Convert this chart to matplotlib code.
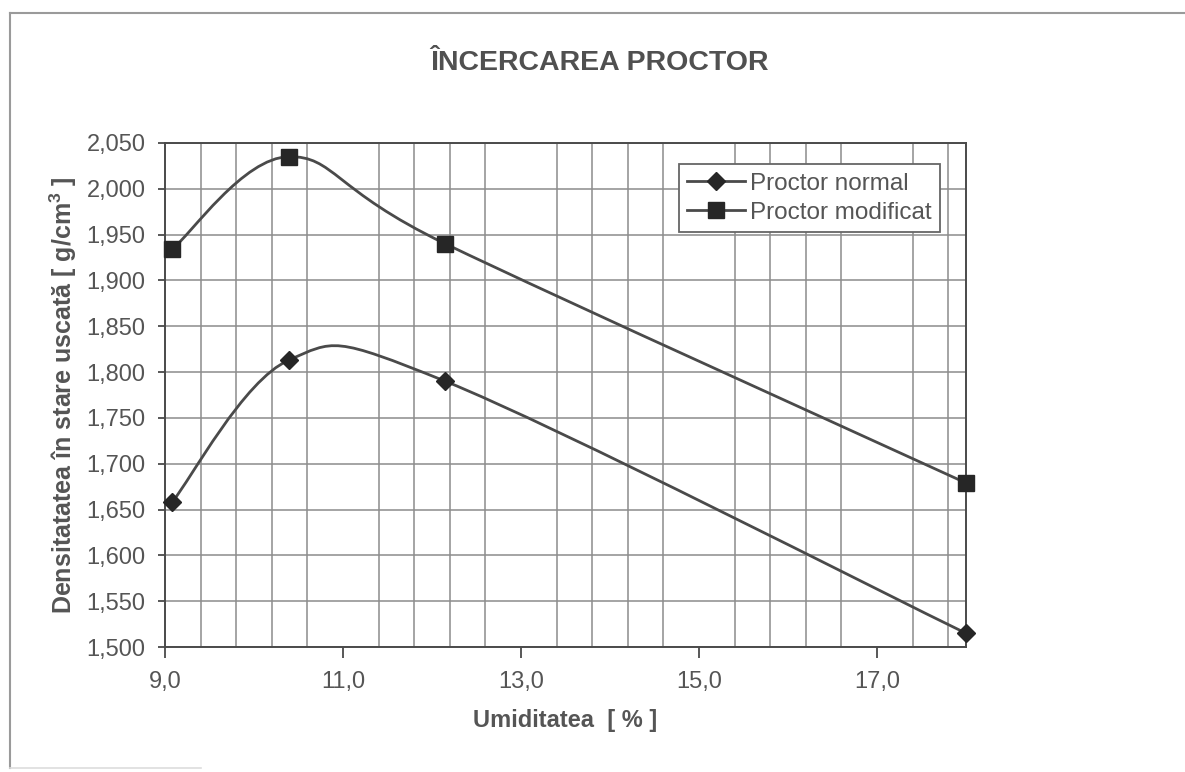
import numpy as np
import matplotlib
matplotlib.use('Agg')
import matplotlib.pyplot as plt
from matplotlib.path import Path
from matplotlib.patches import PathPatch
from matplotlib.lines import Line2D
from matplotlib.ticker import FixedLocator, FuncFormatter

plt.rcParams['font.family'] = ['Liberation Sans', 'DejaVu Sans']

# data
umiditate = [9.08, 10.39, 12.15, 18.0]
proctor_normal = [1.658, 1.813, 1.790, 1.515]
proctor_modificat = [1.934, 2.035, 1.940, 1.679]

x_major = [9.0, 11.0, 13.0, 15.0, 17.0]
y_ticks = np.arange(1.500, 2.0501, 0.050)

TXT = '#555555'
LINE = '#4a4a4a'
MARK = '#262626'
GRID = '#8c8c8c'


def smooth_path(xs, ys):
    # excel-like smoothed line: cubic bezier through the points (catmull-rom)
    p = np.column_stack([xs, ys])
    n = len(p)
    verts = [p[0]]
    codes = [Path.MOVETO]
    for i in range(n - 1):
        p0 = p[i - 1] if i > 0 else p[i]
        p1, p2 = p[i], p[i + 1]
        p3 = p[i + 2] if i + 2 < n else p[i + 1]
        c1 = p1 + (p2 - p0) / 6.0
        c2 = p2 - (p3 - p1) / 6.0
        verts += [c1, c2, p2]
        codes += [Path.CURVE4] * 3
    return Path(verts, codes)


fig = plt.figure(figsize=(11.85, 7.72), dpi=100)
ax = fig.add_axes([0.1392, 0.1619, 0.6760, 0.6529])

for ys, mk, ms in [(proctor_normal, 'D', 9.5), (proctor_modificat, 's', 11)]:
    ax.add_patch(PathPatch(smooth_path(umiditate, ys), facecolor='none',
                           edgecolor=LINE, lw=2, zorder=3))
    ax.plot(umiditate, ys, linestyle='none', marker=mk, ms=ms,
            color=MARK, zorder=4, clip_on=False)

ax.set_xlim(9.0, 18.0)
ax.set_ylim(1.500, 2.050)

ax.xaxis.set_major_locator(FixedLocator(x_major))
ax.xaxis.set_minor_locator(FixedLocator(np.arange(9.0, 17.9, 0.4)))
ax.yaxis.set_major_locator(FixedLocator(y_ticks))
ax.xaxis.set_major_formatter(FuncFormatter(lambda v, p: f'{v:.1f}'.replace('.', ',')))
ax.yaxis.set_major_formatter(FuncFormatter(lambda v, p: f'{v:.3f}'.replace('.', ',')))

ax.grid(True, which='minor', axis='x', color=GRID, lw=1.1)
ax.grid(True, which='major', axis='y', color=GRID, lw=1.1)
ax.set_axisbelow(True)

ax.tick_params(axis='both', which='major', labelsize=17, labelcolor=TXT,
               color=LINE, direction='out', width=1.3)
ax.tick_params(axis='x', which='major', length=8, pad=9)
ax.tick_params(axis='y', which='major', length=5, pad=9)
ax.tick_params(which='minor', length=0)
for s in ax.spines.values():
    s.set_color(LINE)
    s.set_linewidth(1.4)

ax.set_xlabel('Umiditatea  [ % ]', fontsize=17, fontweight='bold', color=TXT, labelpad=12)
ax.set_ylabel('Densitatatea în stare uscată [ g/cm$^{\\mathregular{3}}$ ]',
              fontsize=18, fontweight='bold', color=TXT, labelpad=5)

fig.text(599 / 1185, 1 - 63 / 772, 'ÎNCERCAREA PROCTOR', fontsize=20.5,
         fontweight='bold', color='#505050', ha='center', va='center')

handles = [
    Line2D([], [], color=LINE, lw=2, marker='D', ms=9.5, mfc=MARK, mec=MARK),
    Line2D([], [], color=LINE, lw=2, marker='s', ms=11, mfc=MARK, mec=MARK),
]
leg = ax.legend(handles, ['Proctor normal', 'Proctor modificat'], loc='upper right',
                bbox_to_anchor=(0.968, 0.958), fontsize=17.5, frameon=True, fancybox=False,
                handlelength=2.4, handletextpad=0.2, borderpad=0.35,
                labelspacing=0.3, labelcolor=TXT, borderaxespad=0)
leg.get_frame().set_edgecolor('#666666')
leg.get_frame().set_linewidth(1.3)
leg.get_frame().set_facecolor('white')
leg.get_frame().set_alpha(1)

# outer border of the scanned chart area
fig.add_artist(Line2D([10 / 1185, 1.0], [1 - 13 / 772] * 2, color='#9a9a9a',
                      lw=1.5, transform=fig.transFigure))
fig.add_artist(Line2D([10 / 1185] * 2, [0.005, 1 - 13 / 772], color='#9a9a9a',
                      lw=1.5, transform=fig.transFigure))
fig.add_artist(Line2D([10 / 1185, 0.17], [1 - 768 / 772] * 2, color='#dddddd',
                      lw=1.2, transform=fig.transFigure))

fig.savefig('out.png', dpi=100)
